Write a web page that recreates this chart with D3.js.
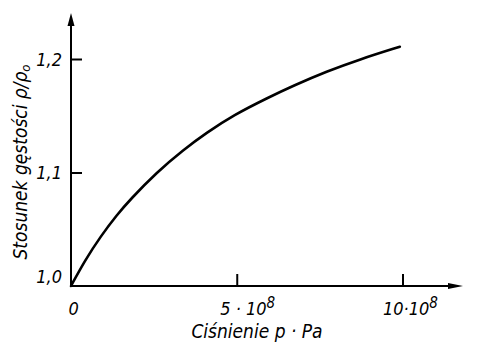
<!DOCTYPE html>
<html><head><meta charset="utf-8">
<script src="https://cdn.jsdelivr.net/npm/d3@7"></script>
<style>
body{margin:0;background:#fff;}
text{font-family:"Liberation Sans Narrow","DejaVu Sans Condensed","DejaVu Sans",sans-serif;font-style:italic;fill:#000;}
</style></head>
<body><svg id="c" width="480" height="359"></svg>
<script>
// Pressure (Pa) and density ratio rho/rho0
const pressure = [0, 0.42e8, 0.9e8, 1.38e8, 1.78e8, 2.58e8, 3.39e8, 4.09e8, 4.90e8, 5.95e8, 6.71e8, 7.71e8, 8.72e8, 9.92e8];
const ratio    = [1.000, 1.0225, 1.044, 1.0625, 1.076, 1.100, 1.120, 1.135, 1.1505, 1.166, 1.1765, 1.189, 1.1998, 1.2108];
const xTicks = [0, 5e8, 10e8];
const xTickLabels = ["0", "5 · 10", "10·10"];
const yTicks = [1.0, 1.1, 1.2];
const yTickLabels = ["1,0", "1,1", "1,2"];

const svg = d3.select("#c");
const x = d3.scaleLinear().domain([0, 10e8]).range([71, 402.5]);
const y = d3.scaleLinear().domain([1.0, 1.2]).range([286, 59]);

// axes lines with arrows
svg.append("line").attr("x1",71).attr("x2",71).attr("y1",y(1.0)+1).attr("y2",20)
  .attr("stroke","#000").attr("stroke-width",2);
svg.append("path").attr("d","M71,13 L67.5,26 L74.5,26 Z").attr("fill","#000");
svg.append("line").attr("x1",70).attr("x2",455).attr("y1",y(1.0)).attr("y2",y(1.0))
  .attr("stroke","#000").attr("stroke-width",2);
svg.append("path").attr("d",`M463,${y(1.0)} L448,${y(1.0)-3} L448,${y(1.0)+3} Z`).attr("fill","#000");

// Y axis ticks
const yAx = svg.append("g").attr("transform","translate(71,0)")
  .call(d3.axisLeft(y).tickValues(yTicks).tickSizeInner(-11).tickSizeOuter(0).tickPadding(9)
    .tickFormat((d,i)=>yTickLabels[i]));
yAx.select(".domain").remove();
yAx.selectAll(".tick line").attr("stroke","#000").attr("stroke-width",2)
  .attr("display",d=>d===1.0?"none":null);
yAx.selectAll(".tick text").attr("font-size",18).attr("font-family",null).attr("fill","#000")
  .attr("dy",d=>d===1.0?"-0.2em":"0.36em");

// X axis ticks
const xAx = svg.append("g").attr("transform",`translate(0,${y(1.0)})`)
  .call(d3.axisBottom(x).tickValues(xTicks).tickSizeInner(-12).tickSizeOuter(0).tickPadding(16)
    .tickFormat((d,i)=>xTickLabels[i]));
xAx.select(".domain").remove();
xAx.selectAll(".tick line").attr("stroke","#000").attr("stroke-width",2)
  .attr("display",d=>d===0?"none":null);
xAx.selectAll(".tick text").attr("font-size",18).attr("font-family",null).attr("fill","#000")
  .attr("text-anchor","start")
  .attr("dx",(d,i)=>[-3,-17,-20][i]);
xAx.selectAll(".tick text").filter(d=>d>0).append("tspan")
  .attr("dy","-0.45em").attr("font-size",15).text("8");

// Curve
const line = d3.line().x((d,i)=>x(pressure[i])).y((d,i)=>y(ratio[i])).curve(d3.curveBasis);
svg.append("path").datum(ratio).attr("d",line).attr("fill","none")
  .attr("stroke","#000").attr("stroke-width",2.6).attr("stroke-linecap","round");

// Axis titles
svg.append("text").attr("x",257).attr("y",338).attr("text-anchor","middle").attr("font-size",19)
  .text("Ciśnienie p · Pa");
const yt = svg.append("text").attr("transform","translate(27,162) rotate(-90)")
  .attr("text-anchor","middle").attr("font-size",19);
yt.append("tspan").text("Stosunek gęstości ρ/ρ");
yt.append("tspan").attr("font-size",13).attr("dy","3").text("o");
</script></body></html>
